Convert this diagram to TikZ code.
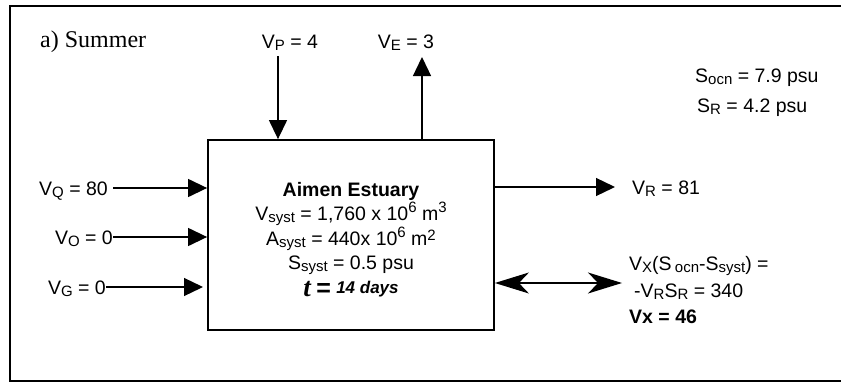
\documentclass[tikz,border=0pt]{standalone}
\usepackage{fontspec}
\setmainfont{Liberation Sans}
\newfontfamily\serifface{Liberation Serif}
\usetikzlibrary{arrows.meta}
% lowered, smaller index letters
\newcommand{\lo}[1]{\raisebox{-2.5pt}{\fontsize{15}{15}\selectfont #1}}
\newcommand{\hi}[1]{\raisebox{7.5pt}{\fontsize{15}{15}\selectfont #1}}
\tikzset{
  lbl/.style={inner sep=0pt, text height=14pt, text depth=4pt, font=\fontsize{19.5}{22}\selectfont},
  flow/.style={line width=1.3pt, -{Triangle[length=19pt,width=18pt]}},
  mix/.style={line width=1.3pt, {Stealth[length=34pt,width=21pt,inset=10pt]}-{Stealth[length=34pt,width=21pt,inset=10pt]}},
}
\begin{document}
\begin{tikzpicture}[x=1pt,y=-1pt]
\useasboundingbox (0,0) rectangle (841,383);
% outer frame (open to the right)
\draw[line width=2pt] (842,6) -- (10,6) -- (10,381) -- (842,381);
% estuary box
\node[draw, line width=1.8pt, minimum width=286pt, minimum height=190pt, inner sep=0pt] (box) at (351,235) {};
\node[lbl, font=\bfseries\fontsize{19.5}{22}\selectfont] (name) at (351,191.5) {Aimen Estuary};
\node[lbl] (vsyst) at (351,215) {V\lo{syst} = 1,760 x 10\hi{6} m\hi{3}};
\node[lbl] (asyst) at (351,240) {A\lo{syst} = 440x 10\hi{6} m\raisebox{5pt}{\fontsize{15}{15}\selectfont 2}};
\node[lbl] (ssyst) at (351,264) {S\lo{syst} = 0.5 psu};
\node[lbl] (tau) at (351,291) {%
  {\serifface\bfseries\itshape\fontsize{27}{27}\selectfont t} {\bfseries\fontsize{25}{25}\selectfont =} {\bfseries\itshape\fontsize{17}{17}\selectfont\raisebox{3pt}{14 days}}};
% title
\node[inner sep=0pt, anchor=west, font=\serifface\fontsize{24}{26}\selectfont] (title) at (40,42) {a) Summer};
% vertical exchanges
\node[lbl] (vp) at (290,43) {V\lo{P} = 4};
\node[lbl] (ve) at (406,43) {V\lo{E} = 3};
\coordinate (vpstart) at (278,56);
\draw[flow] (vpstart) -- (vpstart |- box.north);
\coordinate (vetip) at (422,57);
\draw[flow] (vetip |- box.north) -- (vetip);
% inflows on the left
\node[lbl, anchor=east] (vq) at (108,190) {V\lo{Q} = 80};
\node[lbl, anchor=east] (vo) at (113,239) {V\lo{O} = 0};
\node[lbl, anchor=east] (vg) at (106,289) {V\lo{G} = 0};
\draw[flow] (113,188) -- (box.west |- 0,188);
\draw[flow] (113,237) -- (box.west |- 0,237);
\coordinate (vgtip) at (203,287);
\draw[flow] (106,287) -- (vgtip);
% outflow and exchange on the right
\node[lbl, anchor=west] (vr) at (632,189) {V\lo{R} = 81};
\coordinate (vrtip) at (615,187);
\draw[flow] (box.east |- vrtip) -- (vrtip);
\coordinate (mixend) at (622,283);
\draw[mix] (box.east |- mixend) -- (mixend);
\node[lbl, anchor=west] (vx1) at (629,265) {V\lo{X}(S\,\lo{ocn}-S\lo{syst}) =};
\node[lbl, anchor=west] (vx2) at (634,292) {-V\lo{R}S\lo{R} = 340};
\node[lbl, anchor=west, font=\bfseries\fontsize{19.5}{22}\selectfont] (vx3) at (629,318) {Vx = 46};
% boundary salinities
\node[lbl, anchor=west] (socn) at (695,77) {S\lo{ocn} = 7.9 psu};
\node[lbl, anchor=west] (sr) at (697,107) {S\lo{R} = 4.2 psu};
\end{tikzpicture}
\end{document}
